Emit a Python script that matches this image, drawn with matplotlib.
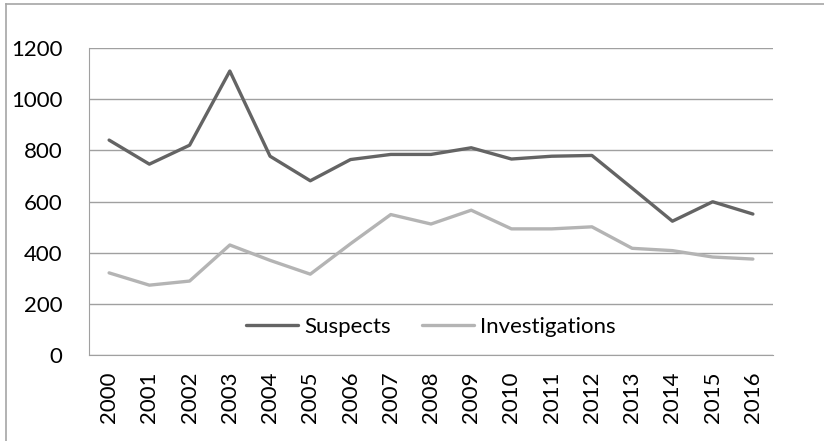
import matplotlib
matplotlib.use("Agg")
import matplotlib.pyplot as plt
from matplotlib.lines import Line2D

years = [str(y) for y in range(2000, 2017)]
suspects = [840, 746, 820, 1110, 777, 681, 764, 784, 784, 810, 766, 777, 780, 652, 523, 599, 551]
investigations = [321, 273, 289, 430, 370, 316, 435, 549, 512, 566, 493, 493, 501, 417, 408, 383, 375]
yticks = [0, 200, 400, 600, 800, 1000, 1200]

plt.rcParams['font.family'] = ['Lato', 'DejaVu Sans']

W, H = 824, 441
fig = plt.figure(figsize=(W/100, H/100), dpi=100)
# outer chart frame (only left and top visible)
fig.lines.append(Line2D([6/W, 6/W], [0, 1 - 4/H], transform=fig.transFigure,
                        color='#a6a6a6', linewidth=1.2))
fig.lines.append(Line2D([6/W, 1], [1 - 4/H, 1 - 4/H], transform=fig.transFigure,
                        color='#a6a6a6', linewidth=1.2))
ax = fig.add_axes([89/W, 1 - 355/H, (773-89)/W, (355-48)/H])

x = list(range(len(years)))
ax.plot(x, suspects, color='#646464', linewidth=2.4, label='Suspects', solid_capstyle='round')
ax.plot(x, investigations, color='#b4b4b4', linewidth=2.4, label='Investigations', solid_capstyle='round')

ax.set_xlim(-0.5, len(years) - 0.5)
ax.set_ylim(0, 1200)
ax.set_yticks(yticks)
ax.set_yticklabels([str(v) for v in yticks], fontsize=16)
ax.set_xticks(x)
ax.set_xticklabels(years, rotation=90, fontsize=16)
ax.tick_params(axis='both', length=0, colors='black')
ax.tick_params(axis='y', pad=19)
ax.tick_params(axis='x', pad=12)
ax.grid(axis='y', color='#a0a0a0', linewidth=1)
ax.set_axisbelow(True)
for s in ['top', 'right']:
    ax.spines[s].set_visible(False)
ax.spines['left'].set_color('#a0a0a0')
ax.spines['bottom'].set_color('#a0a0a0')

leg = ax.legend(loc='lower center', bbox_to_anchor=(0.5, -0.006), ncol=2, frameon=False,
                fontsize=16, handlelength=2.35, handletextpad=0.27, columnspacing=1.4)

fig.savefig('out.png', dpi=100)
